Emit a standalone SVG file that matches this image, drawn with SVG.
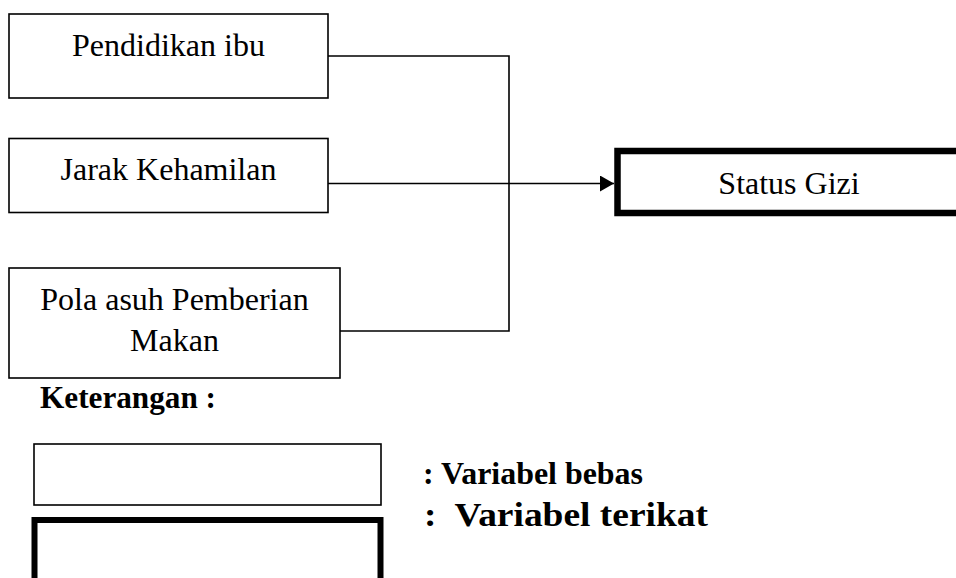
<svg xmlns="http://www.w3.org/2000/svg" width="956" height="578" viewBox="0 0 956 578">
<style>
.box{fill:#fff;stroke:#000;stroke-width:1.6}
.thick{fill:#fff;stroke:#000;stroke-width:6.5}
.t{font-family:"Liberation Serif","Times New Roman",serif;font-size:32px;fill:#000;text-anchor:middle}
.b{font-family:"Liberation Serif","Times New Roman",serif;font-size:31px;font-weight:bold;fill:#000}
.line{fill:none;stroke:#000;stroke-width:1.6}
</style>
<defs>
<marker id="arr" markerUnits="userSpaceOnUse" markerWidth="14" markerHeight="16" refX="14" refY="8" orient="auto">
<path d="M0,0 L14,8 L0,16 Z" fill="#000"/>
</marker>
</defs>
<g id="connectors">
<polyline class="line" points="328,56 509,56 509,331 340,331"/>
<line class="line" x1="328" y1="183.5" x2="614" y2="183.5" marker-end="url(#arr)"/>
</g>
<g id="n1"><rect class="box" x="9" y="14" width="319" height="84"/><text class="t" x="168.5" y="56">Pendidikan ibu</text></g>
<g id="n2"><rect class="box" x="9" y="138.5" width="319" height="74"/><text class="t" x="168.5" y="180">Jarak Kehamilan</text></g>
<g id="n3"><rect class="box" x="9" y="268" width="331" height="110"/><text class="t" x="174.5" y="310">Pola asuh Pemberian</text><text class="t" x="174.5" y="351">Makan</text></g>
<g id="n4"><rect class="thick" x="617.5" y="151" width="360" height="62"/><text class="t" x="789" y="194">Status Gizi</text></g>
<g id="legend">
<text class="b" x="40" y="408" textLength="176" lengthAdjust="spacingAndGlyphs" style="font-size:32px">Keterangan :</text>
<rect class="box" x="34" y="444" width="347" height="61"/>
<text class="b" x="423" y="484" textLength="220" lengthAdjust="spacingAndGlyphs">: Variabel bebas</text>
<rect class="thick" x="34.5" y="520" width="346" height="80" style="stroke-width:6"/>
<text class="b" x="424" y="526" textLength="284" lengthAdjust="spacingAndGlyphs" style="font-size:34px">:&#160; Variabel terikat</text>
</g>
</svg>
